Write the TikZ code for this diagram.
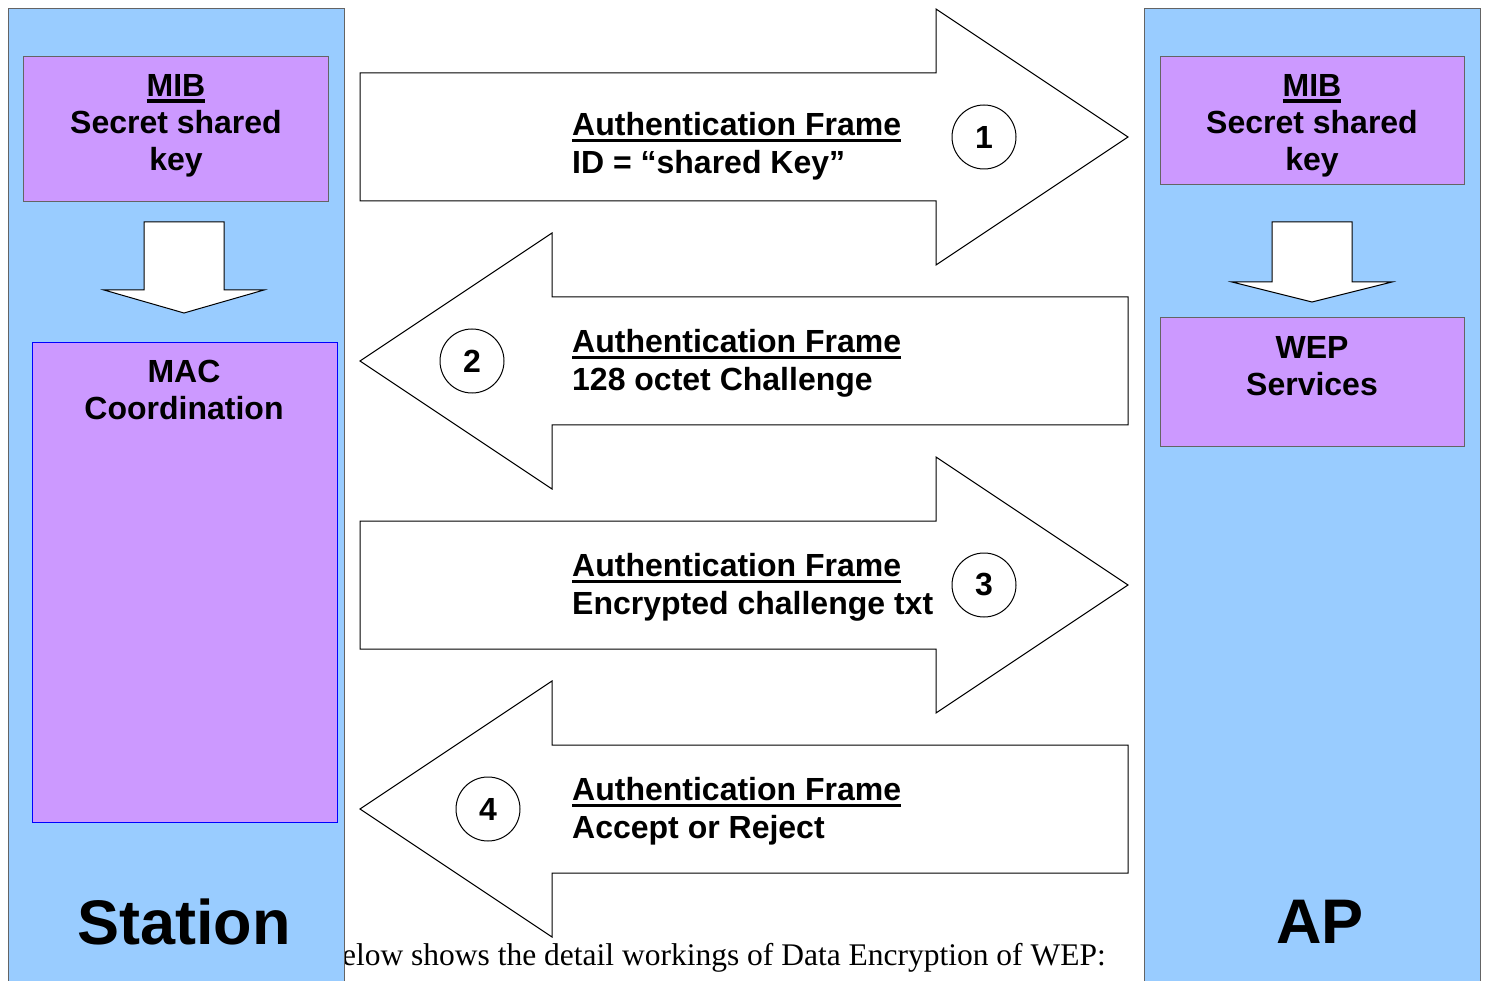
\documentclass[tikz,border=0pt]{standalone}
\usepackage{fontspec}
\setmainfont{Liberation Sans}
\newfontfamily\captionserif{Liberation Serif}
\definecolor{panelblue}{RGB}{153,204,255}
\definecolor{boxlilac}{RGB}{204,153,255}
\definecolor{edgegray}{RGB}{100,100,100}
% thick underline used for the headings
\newcommand\ulbar[1]{\setbox0\hbox{#1}\rlap{\rule[-6pt]{\wd0}{3.4pt}}\box0}
\tikzset{
  panelfill/.style={fill=panelblue},
  paneledge/.style={draw=edgegray, line width=1pt},
  lilacbox/.style={draw=edgegray, fill=boxlilac, line width=1pt, inner sep=0, rectangle},
  macbox/.style={draw=blue, fill=boxlilac, line width=1pt, inner sep=0, rectangle},
  blockarrow/.style={draw=black, fill=white, line width=1pt, line join=miter},
  boxtext/.style={font=\fontsize{32}{37}\selectfont\bfseries, inner sep=0, align=center},
  frametext/.style={font=\fontsize{32}{38}\selectfont\bfseries, inner sep=0, align=left, anchor=north west},
  stepmark/.style={circle, draw=black, fill=white, line width=1pt, minimum size=64pt, inner sep=0,
                   font=\fontsize{32}{38}\selectfont\bfseries},
  sidetitle/.style={font=\fontsize{63}{70}\selectfont\bfseries, inner sep=0},
  captionline/.style={font=\fontsize{31.5}{36}\captionserif\selectfont, inner sep=0, anchor=base east}
}
\newcommand\stepdigit[1]{\raisebox{-2.5pt}{#1}}
\begin{document}
\begin{tikzpicture}[x=1pt,y=-1pt]
\useasboundingbox (0,0) rectangle (1486,981);
\fill[white] (0,0) rectangle (1486,981);

% running text line, partly hidden by the station column
\node[captionline] (caption) at (1106,965) {below shows the detail workings of Data Encryption of WEP:};

% station column
\fill[panelfill] (8,9) rectangle (344,981);
\draw[paneledge] (8,981) -- (8,9) -- (344,9) -- (344,981);
% access point column
\fill[panelfill] (1144,9) rectangle (1480,981);
\draw[paneledge] (1144,981) -- (1144,9) -- (1480,9) -- (1480,981);

% station blocks
\node[lilacbox, minimum width=305pt, minimum height=145pt] (mibL) at (175.5,129.5) {};
\node[boxtext, anchor=north] (mibLtext) at (176,74.5) {\ulbar{MIB}\\Secret shared\\key};
\draw[blockarrow] (144,222) -- (224,222) -- (224,290) -- (264,290) -- (184,313) -- (104,290) -- (144,290) -- cycle;
\node[macbox, minimum width=305pt, minimum height=479pt] (mac) at (184.5,582.5) {};
\node[boxtext, anchor=north] (mactext) at (184,360) {MAC\\Coordination};

% access point blocks
\node[lilacbox, minimum width=304pt, minimum height=128pt] (mibR) at (1312,121) {};
\node[boxtext, anchor=north] (mibRtext) at (1312,74.5) {\ulbar{MIB}\\Secret shared\\key};
\draw[blockarrow] (1272,222) -- (1352,222) -- (1352,282) -- (1392,282) -- (1312,302) -- (1232,282) -- (1272,282) -- cycle;
\node[lilacbox, minimum width=304pt, minimum height=128pt] (wep) at (1312,382) {};
\node[boxtext, anchor=north] (weptext) at (1312,336.5) {WEP\\Services};

% exchange 1: station to AP
\draw[blockarrow] (360,73) -- (936,73) -- (936,9) -- (1128,137) -- (936,265) -- (936,201) -- (360,201) -- cycle;
\node[frametext] (frame1) at (572,112.6) {\ulbar{Authentication Frame}\\ID = “shared Key”};
\node[stepmark] (step1) at (984,137) {\stepdigit{1}};

% exchange 2: AP to station
\draw[blockarrow] (360,361) -- (552,233) -- (552,297) -- (1128,297) -- (1128,425) -- (552,425) -- (552,489) -- cycle;
\node[frametext] (frame2) at (572,329.6) {\ulbar{Authentication Frame}\\128 octet Challenge};
\node[stepmark] (step2) at (472,361) {\stepdigit{2}};

% exchange 3: station to AP
\draw[blockarrow] (360,521) -- (936,521) -- (936,457) -- (1128,585) -- (936,713) -- (936,649) -- (360,649) -- cycle;
\node[frametext] (frame3) at (572,553.6) {\ulbar{Authentication Frame}\\Encrypted challenge txt};
\node[stepmark] (step3) at (984,585) {\stepdigit{3}};

% exchange 4: AP to station
\draw[blockarrow] (360,809) -- (552,681) -- (552,745) -- (1128,745) -- (1128,873) -- (552,873) -- (552,937) -- cycle;
\node[frametext] (frame4) at (572,777.6) {\ulbar{Authentication Frame}\\Accept or Reject};
\node[stepmark] (step4) at (488,809) {\stepdigit{4}};

% column titles
\node[sidetitle] (station) at (184,921.5) {Station};
\node[sidetitle] (ap) at (1320,921.5) {AP};
\end{tikzpicture}
\end{document}
